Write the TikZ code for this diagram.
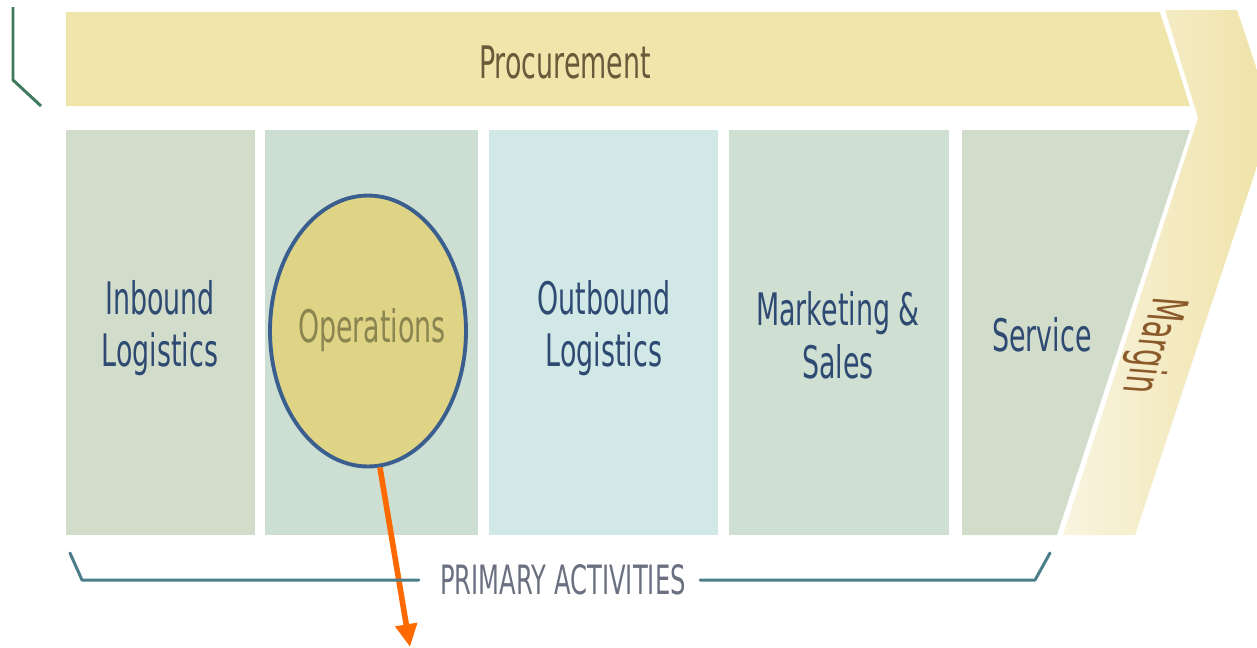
\documentclass[tikz,border=0pt]{standalone}
\usepackage{fontspec}
\usetikzlibrary{shapes.geometric,arrows.meta}
\newfontfamily\nf[FakeStretch=0.6]{DejaVu Sans}
\definecolor{procfill}{HTML}{F0E6AC}
\definecolor{boxA}{HTML}{D1DCCB}
\definecolor{boxB}{HTML}{CDDFD3}
\definecolor{boxC}{HTML}{D1E8E6}
\definecolor{boxD}{HTML}{CFDFD2}
\definecolor{lbl}{HTML}{2E4A72}
\definecolor{proctext}{HTML}{6B5A3A}
\definecolor{margtext}{HTML}{8B5A2B}
\definecolor{opsfill}{HTML}{DFD385}
\definecolor{opsline}{HTML}{3A5F8F}
\definecolor{opstext}{HTML}{8A8550}
\definecolor{brk}{HTML}{4B7D8A}
\definecolor{brkL}{HTML}{3F7A5C}
\definecolor{primtext}{HTML}{6B7080}
\definecolor{arr}{HTML}{FF6A00}
\definecolor{margL}{HTML}{F9F4E0}
\definecolor{margR}{HTML}{EFE2A6}
\tikzset{
  lab/.style={font=\nf\fontsize{25.5}{30}\selectfont, text=lbl, align=center, inner sep=0pt},
  bracket/.style={draw=brk, line width=1.7pt, line cap=round, line join=round},
}
\begin{document}
\begin{tikzpicture}[x=0.02cm,y=-0.02cm]
\useasboundingbox (0,0) rectangle (1257,647);
% left bracket
\draw[draw=brkL, line width=1.7pt, line join=round] (13,7) -- (13,80) -- (41,106);
% margin chevron
\shade[left color=margL, right color=margR] (1165,10) -- (1237,10) -- (1273,118) -- (1135,535) -- (1063,535) -- (1198,118) -- cycle;
% procurement
\fill[procfill] (66,12) -- (1160,12) -- (1190,106) -- (66,106) -- cycle;
\node[lab, text=proctext] (proc) at (565,62) {Procurement};
% primary boxes
\fill[boxA] (66,130) rectangle (255,535);
\fill[boxB] (265,130) rectangle (478,535);
\fill[boxC] (489,130) rectangle (718,535);
\fill[boxD] (729,130) rectangle (949,535);
\fill[boxA] (962,130) -- (1190,130) -- (1057,535) -- (962,535) -- cycle;
\node[lab] (inb) at (160,328) {Inbound\\Logistics};
\node[lab] (outb) at (604,328) {Outbound\\Logistics};
\node[lab] (mkt) at (838,335) {Marketing \&\\Sales};
\node[lab] (serv) at (1042,335) {Service};
\node[lab, font=\nf\fontsize{28}{32}\selectfont, text=margtext, cm={-0.31,-0.95,1,-0.08,(0,0)}] (marg) at (1152,345) {Margin};
% operations ellipse
\node[ellipse, draw=opsline, fill=opsfill, line width=2.2pt, minimum width=3.92cm, minimum height=5.42cm, inner sep=0pt] (ops) at (368,331) {};
\node[lab, text=opstext] (opst) at (372,330) {Operations};
% arrow
\coordinate (arrend) at (410,647);
\draw[draw=arr, fill=arr, line width=3.2pt, -{Triangle[length=13pt,width=12pt]}] (ops.-85) -- (arrend);
% primary activities bracket
\node[font=\nf\fontsize{23}{27}\selectfont, text=primtext, inner sep=0pt] (prim) at (563,580) {PRIMARY ACTIVITIES};
\coordinate (bl) at (70,553);
\coordinate (br) at (1050,553);
\draw[bracket] (bl) -- (82,580) -- ([xshift=-12pt]prim.west |- 0,580);
\draw[bracket] ([xshift=8pt]prim.east |- 0,580) -- (1035,580) -- (br);
\end{tikzpicture}
\end{document}
